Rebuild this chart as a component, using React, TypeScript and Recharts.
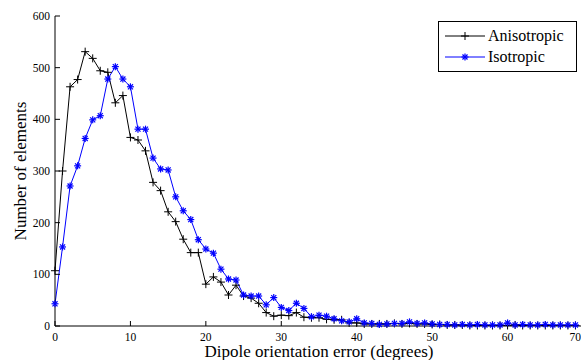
import { LineChart, Line, XAxis, YAxis } from 'recharts';

const degrees = Array.from({ length: 70 }, (_, i) => i);

const anisotropic = [
  107, 300, 463, 477, 531, 518, 494, 491, 432, 446,
  365, 360, 339, 278, 262, 221, 202, 168, 142, 142,
  81, 95, 85, 60, 79, 58, 54, 44, 26, 19,
  21, 20, 26, 17, 16, 16, 13, 12, 12, 6,
  6, 4, 4, 4, 4, 5, 4, 5, 4, 4,
  3, 3, 2, 2, 2, 1, 1, 1, 1, 1,
  1, 2, 1, 1, 1, 1, 1, 1, 1, 1,
];

const isotropic = [
  43, 153, 271, 310, 363, 399, 407, 478, 502, 478,
  463, 381, 381, 325, 304, 302, 250, 223, 206, 167,
  149, 141, 110, 91, 89, 60, 58, 58, 41, 55,
  36, 30, 44, 34, 18, 21, 19, 14, 10, 8,
  14, 6, 5, 3, 4, 5, 5, 8, 5, 6,
  4, 3, 3, 2, 3, 2, 3, 2, 2, 2,
  6, 2, 3, 2, 2, 3, 2, 2, 2, 2,
];

const xTicks = [0, 10, 20, 30, 40, 50, 60, 70];
const yTicks = [0, 100, 200, 300, 400, 500, 600];

const rows = degrees.map((d, i) => ({ d, aniso: anisotropic[i], iso: isotropic[i] }));

const FONT = '"Liberation Serif", "Times New Roman", serif';
const BLUE = '#0000ff';

const PlusDot = (props: any) => {
  const { cx, cy, key } = props;
  if (cx == null || cy == null) return null;
  return (
    <g key={key}>
      <line x1={cx - 4} y1={cy} x2={cx + 4} y2={cy} stroke="#000" strokeWidth={1} />
      <line x1={cx} y1={cy - 4} x2={cx} y2={cy + 4} stroke="#000" strokeWidth={1} />
    </g>
  );
};

const StarDot = (props: any) => {
  const { cx, cy, key } = props;
  if (cx == null || cy == null) return null;
  const r = 3.5;
  const d = r * 0.72;
  return (
    <g key={key} stroke={BLUE} strokeWidth={1.2}>
      <line x1={cx - r} y1={cy} x2={cx + r} y2={cy} />
      <line x1={cx} y1={cy - r} x2={cx} y2={cy + r} />
      <line x1={cx - d} y1={cy - d} x2={cx + d} y2={cy + d} />
      <line x1={cx - d} y1={cy + d} x2={cx + d} y2={cy - d} />
    </g>
  );
};

const LegendBox = () => (
  <div
    style={{
      position: 'absolute',
      left: 438,
      top: 21,
      border: '1px solid #000',
      background: '#fff',
      width: 139,
      height: 51,
      boxSizing: 'border-box',
    }}
  >
    <svg width={137} height={49} style={{ display: 'block' }}>
      <line x1={6} y1={14} x2={46} y2={14} stroke="#000" />
      <PlusDot cx={26} cy={14} />
      <text x={49} y={19} fontFamily={FONT} fontSize={16}>Anisotropic</text>
      <line x1={6} y1={35} x2={46} y2={35} stroke={BLUE} />
      <StarDot cx={26} cy={35} />
      <text x={49} y={40} fontFamily={FONT} fontSize={16}>Isotropic</text>
    </svg>
  </div>
);

export default function App() {
  const tickStyle = { fill: '#000', fontSize: 11.5, fontFamily: FONT };
  const blank = () => '';
  return (
    <div style={{ position: 'absolute', left: 0, top: 0, width: 581, height: 360, background: '#fff' }}>
      <LineChart width={581} height={360} data={rows} margin={{ top: 16, right: -3, left: 0, bottom: 0 }}>
        <XAxis
          dataKey="d"
          type="number"
          domain={[0, 70]}
          ticks={xTicks}
          tickSize={-5}
          tickMargin={12}
          height={34}
          tick={tickStyle}
          axisLine={{ stroke: '#000' }}
          tickLine={{ stroke: '#000' }}
          label={{ value: 'Dipole orientation error (degrees)', position: 'insideBottom', offset: 3, fill: '#000', fontSize: 17, fontFamily: FONT }}
        />
        <XAxis
          xAxisId="top"
          orientation="top"
          dataKey="d"
          type="number"
          domain={[0, 70]}
          ticks={xTicks}
          tickSize={-5}
          height={0}
          tickFormatter={blank}
          axisLine={{ stroke: '#000' }}
          tickLine={{ stroke: '#000' }}
        />
        <YAxis
          type="number"
          domain={[0, 600]}
          ticks={yTicks}
          tickSize={-5}
          tickMargin={10}
          width={55}
          tick={tickStyle}
          axisLine={{ stroke: '#000' }}
          tickLine={{ stroke: '#000' }}
          label={{ value: 'Number of elements', angle: -90, position: 'insideLeft', offset: 20, fill: '#000', fontSize: 17, fontFamily: FONT, style: { textAnchor: 'middle' } }}
        />
        <YAxis
          yAxisId="right"
          orientation="right"
          type="number"
          domain={[0, 600]}
          ticks={yTicks}
          tickSize={-5}
          width={1}
          tickFormatter={blank}
          axisLine={{ stroke: '#000' }}
          tickLine={{ stroke: '#000' }}
        />
        <Line
          dataKey="aniso"
          name="Anisotropic"
          stroke="#000"
          strokeWidth={1}
          dot={PlusDot}
          activeDot={false}
          isAnimationActive={false}
        />
        <Line
          dataKey="iso"
          name="Isotropic"
          stroke={BLUE}
          strokeWidth={1}
          dot={StarDot}
          activeDot={false}
          isAnimationActive={false}
        />
      </LineChart>
      <LegendBox />
    </div>
  );
}
